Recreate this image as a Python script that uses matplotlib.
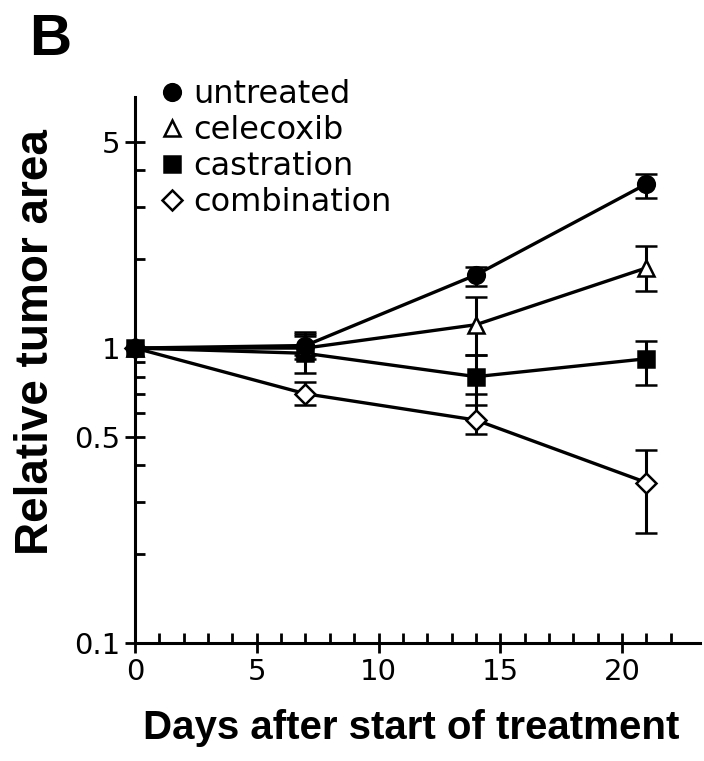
import matplotlib
matplotlib.use("Agg")
import matplotlib.pyplot as plt
from matplotlib.ticker import FixedLocator, NullFormatter
import numpy as np

days = [0, 7, 14, 21]
series = ["untreated", "celecoxib", "castration", "combination"]

untreated_mean = [1.0, 1.02, 1.77, 3.60]
untreated_low = [1.0, 0.95, 1.62, 3.22]
untreated_high = [1.0, 1.12, 1.88, 3.89]

celecoxib_mean = [1.0, 1.00, 1.20, 1.87]
celecoxib_low = [1.0, 0.92, 0.95, 1.56]
celecoxib_high = [1.0, 1.10, 1.49, 2.22]

castration_mean = [1.0, 0.96, 0.80, 0.92]
castration_low = [1.0, 0.82, 0.64, 0.75]
castration_high = [1.0, 1.13, 0.95, 1.06]

combination_mean = [1.0, 0.70, 0.57, 0.35]
combination_low = [1.0, 0.64, 0.51, 0.236]
combination_high = [1.0, 0.77, 0.70, 0.45]

y_major = [0.1, 0.5, 1, 5]
y_major_labels = ["0.1", "0.5", "1", "5"]
y_minor = [0.2, 0.3, 0.4, 0.6, 0.7, 0.8, 0.9, 2, 3, 4]
x_major = [0, 5, 10, 15, 20]
x_minor = list(range(0, 23))

W, H = 704, 761
fig = plt.figure(figsize=(W / 100, H / 100), dpi=100)
ax = fig.add_axes([135 / W, 1 - 643 / H, (700 - 135) / W, (643 - 97) / H])
ax.set_yscale("log")
ax.set_ylim(0.1, 7.1)
ax.set_xlim(0, 23.2)

styles = [
    (untreated_mean, untreated_low, untreated_high, "o", "black", 12),
    (celecoxib_mean, celecoxib_low, celecoxib_high, "^", "white", 11),
    (castration_mean, castration_low, castration_high, "s", "black", 11),
    (combination_mean, combination_low, combination_high, "D", "white", 10),
]
handles = []
for i, (m, lo, hi, mk, fc, ms) in enumerate(styles):
    m = np.array(m); lo = np.array(lo); hi = np.array(hi)
    c = ax.errorbar(days, m, yerr=[m - lo, hi - m], fmt=mk + "-", color="black",
                    mfc=fc, mec="black", ms=ms, mew=1.8, lw=2.4, elinewidth=2.2,
                    capsize=8, capthick=2.2, errorevery=(1, 1), clip_on=False,
                    zorder=5 - i)
    handles.append(c.lines[0])

for s in ["top", "right"]:
    ax.spines[s].set_visible(False)
for s in ["left", "bottom"]:
    ax.spines[s].set_linewidth(2.2)

ax.yaxis.set_major_locator(FixedLocator(y_major))
ax.set_yticklabels(y_major_labels)
ax.yaxis.set_minor_locator(FixedLocator(y_minor))
ax.yaxis.set_minor_formatter(NullFormatter())
ax.xaxis.set_major_locator(FixedLocator(x_major))
ax.xaxis.set_minor_locator(FixedLocator(x_minor))

ax.tick_params(which="major", direction="inout", length=15, width=2,
               labelsize=21, pad=3)
ax.tick_params(which="minor", direction="in", length=7, width=2)
for lab in ax.get_xticklabels() + ax.get_yticklabels():
    lab.set_fontfamily("DejaVu Sans")

fig.text(411 / W, 1 - 728 / H, "Days after start of treatment",
         ha="center", va="center", fontsize=29, fontweight="bold",
         family=["Liberation Sans", "DejaVu Sans"])
fig.text(36 / W, 1 - 342 / H, "Relative tumor area", rotation=90,
         ha="center", va="center", fontsize=33, fontweight="bold",
         family=["Liberation Sans", "DejaVu Sans"])
fig.text(29 / W, 1 - 55 / H, "B", ha="left", va="baseline", fontsize=42,
         fontweight="bold", family=["Liberation Sans", "DejaVu Sans"])

leg = fig.legend(handles, series, loc="upper left",
                 bbox_to_anchor=(172 / W, 1 - 79 / H), frameon=False,
                 handlelength=0, handletextpad=0.65, labelspacing=0.16,
                 borderpad=0, borderaxespad=0,
                 prop={"family": "DejaVu Sans", "size": 23})

fig.savefig("out.png", dpi=100)
